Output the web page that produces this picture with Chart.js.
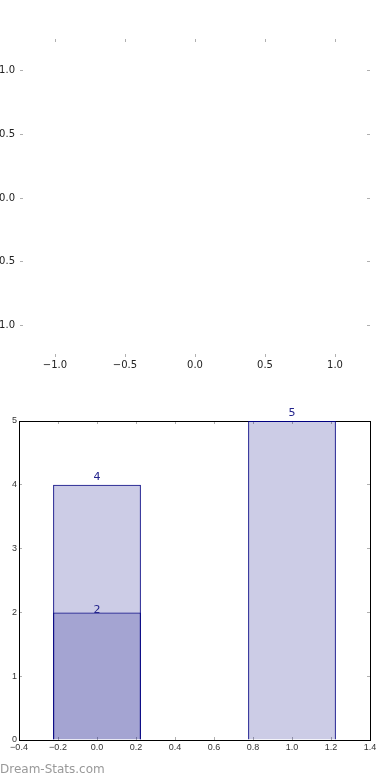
<!DOCTYPE html>
<html>
<head>
<meta charset="utf-8">
<script src="https://cdn.jsdelivr.net/npm/chart.js@4.4.0/dist/chart.umd.min.js"></script>
<style>
  html, body { margin: 0; padding: 0; background: #fff; }
  body { width: 390px; height: 780px; position: relative; overflow: hidden; }
  #top { position: absolute; left: 0; top: 0; }
  #bottom { position: absolute; left: 0; top: 400px; }
  .mark { position: absolute; left: 0; top: 762px; font: 12px 'DejaVu Sans'; line-height: 14px; color: #999; }
</style>
</head>
<body>
<canvas id="top" width="390" height="390"></canvas>
<canvas id="bottom" width="390" height="370"></canvas>
<div class="mark">Dream-Stats.com</div>
<script>
// top panel: empty axes, only ticks
const emptyXTicks = [-1.0, -0.5, 0.0, 0.5, 1.0];
const emptyYTicks = [-1.0, -0.5, 0.0, 0.5, 1.0];
const emptyMin = -1.25;
const emptyMax = 1.25;

// bottom panel: overlapping bars
const barX = [0, 1];
const barTotals = [4, 5];
const barLowX = [0];
const barLow = [2];
const barWidth = 0.45;
const xTicks = [-0.4, -0.2, 0.0, 0.2, 0.4, 0.6, 0.8, 1.0, 1.2, 1.4];
const yTicks = [0, 1, 2, 3, 4, 5];

Chart.defaults.font.family = 'DejaVu Sans';

const fmt1 = v => (v < 0 ? '\u2212' : '') + Math.abs(v).toFixed(1);

function fixedAxis(position, values, min, max, size, extra) {
    return Object.assign({
        type: 'linear',
        position: position,
        min: min,
        max: max,
        offset: false,
        afterBuildTicks: s => { s.ticks = values.map(v => ({ value: v })); },
        afterFit: s => { if (s.isHorizontal()) s.height = size; else s.width = size; },
        grid: { drawOnChartArea: false, drawTicks: true, tickLength: -3, color: '#b0b0b0', offset: false }
    }, extra);
}

const noLabels = { display: false };

new Chart(document.getElementById('top'), {
    type: 'scatter',
    data: { datasets: [] },
    options: {
        responsive: false,
        animation: false,
        layout: { padding: 0 },
        plugins: { legend: { display: false }, tooltip: { enabled: false } },
        scales: {
            x: fixedAxis('bottom', emptyXTicks, emptyMin, emptyMax, 33, {
                border: { display: false },
                ticks: { padding: 5, autoSkip: false, maxRotation: 0, color: '#222', font: { size: 10 }, callback: v => fmt1(v) }
            }),
            x2: fixedAxis('top', emptyXTicks, emptyMin, emptyMax, 39, { border: { display: false }, ticks: noLabels }),
            y: fixedAxis('left', emptyYTicks, emptyMin, emptyMax, 20, {
                border: { display: false },
                ticks: { padding: 8, autoSkip: false, color: '#222', font: { size: 10 }, callback: v => fmt1(v) }
            }),
            y2: fixedAxis('right', emptyYTicks, emptyMin, emptyMax, 20, { border: { display: false }, ticks: noLabels })
        }
    }
});

const barLabels = {
    id: 'barLabels',
    afterDatasetsDraw(chart) {
        const { ctx, scales: { x, y } } = chart;
        ctx.save();
        ctx.font = '11px "DejaVu Sans"';
        ctx.fillStyle = '#23238c';
        ctx.textAlign = 'center';
        ctx.textBaseline = 'alphabetic';
        barX.forEach((v, i) => {
            ctx.fillText(String(barTotals[i]), x.getPixelForValue(v), y.getPixelForValue(barTotals[i]) - 5);
        });
        barLowX.forEach((v, i) => {
            ctx.fillText(String(barLow[i]), x.getPixelForValue(v), y.getPixelForValue(barLow[i]) + 0.5);
        });
        ctx.restore();
    }
};

const frame = { color: '#000', width: 1 };
const smallTicks = { size: 9, family: 'Liberation Sans' };

new Chart(document.getElementById('bottom'), {
    type: 'bar',
    data: {
        datasets: [{
            data: barX.map((v, i) => ({ x: v, y: barTotals[i] })),
            backgroundColor: 'rgba(0, 0, 128, 0.2)',
            borderColor: '#000080',
            borderWidth: 1,
            grouped: false,
            categoryPercentage: 1,
            barPercentage: barWidth / (xTicks[1] - xTicks[0])
        }, {
            data: barLowX.map((v, i) => ({ x: v, y: barLow[i] })),
            backgroundColor: 'rgba(0, 0, 128, 0.2)',
            borderColor: '#000080',
            borderWidth: 1,
            grouped: false,
            categoryPercentage: 1,
            barPercentage: barWidth / (xTicks[1] - xTicks[0])
        }]
    },
    options: {
        responsive: false,
        animation: false,
        layout: { padding: 0 },
        plugins: { legend: { display: false }, tooltip: { enabled: false } },
        scales: {
            x: fixedAxis('bottom', xTicks, -0.4, 1.4, 30, {
                border: frame,
                ticks: { padding: 5, autoSkip: false, maxRotation: 0, color: '#333', font: smallTicks, callback: v => fmt1(v) }
            }),
            x2: fixedAxis('top', xTicks, -0.4, 1.4, 21, { border: frame, ticks: noLabels }),
            y: fixedAxis('left', yTicks, 0, 5, 19, {
                border: frame,
                ticks: { padding: 5, autoSkip: false, color: '#333', font: smallTicks, callback: v => String(v) }
            }),
            y2: fixedAxis('right', yTicks, 0, 5, 20, { border: frame, ticks: noLabels })
        }
    },
    plugins: [barLabels]
});
</script>
</body>
</html>
